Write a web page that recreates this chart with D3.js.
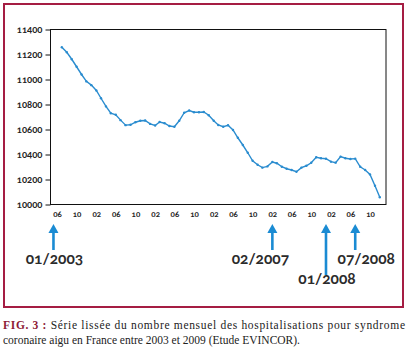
<!DOCTYPE html>
<html>
<head>
<meta charset="utf-8">
<script src="https://cdn.jsdelivr.net/npm/d3@7"></script>
<style>
  body { margin: 0; background: #fff; }
  svg { display: block; }
  .num { font-family: Lato, "Open Sans", sans-serif; font-variant-numeric: oldstyle-nums; }
</style>
</head>
<body>
<svg id="chart" width="410" height="362"></svg>
<script>
// monthly smoothed counts, first value = July 2003, last = Dec 2008
const firstMonth = "2003-07";
const values = [
  11258, 11218, 11162, 11102, 11040, 10985, 10955, 10912, 10850, 10785,
  10730, 10718, 10675, 10635, 10638, 10658, 10670, 10672, 10645, 10632,
  10660, 10650, 10628, 10622, 10670, 10734, 10752, 10738, 10738, 10740,
  10714, 10670, 10636, 10622, 10634, 10596, 10534, 10476, 10414, 10350,
  10318, 10295, 10305, 10340, 10330, 10302, 10286, 10276, 10262, 10295,
  10310, 10334, 10378, 10370, 10366, 10343, 10335, 10383, 10370, 10364,
  10367, 10302, 10276, 10241, 10150, 10058
];
const yTicks = [10000, 10200, 10400, 10600, 10800, 11000, 11200, 11400];
const xTicks = [
  "2003-06", "2003-10", "2004-02", "2004-06", "2004-10", "2005-02", "2005-06",
  "2005-10", "2006-02", "2006-06", "2006-10", "2007-02", "2007-06", "2007-10",
  "2008-02", "2008-06", "2008-10"
];
const markLabels = ["01/2003", "02/2007", "01/2008", "07/2008"];
const markDates = ["2003-05-10", "2007-02-01", "2008-01-01", "2008-07-01"];

const parse = d3.timeParse("%Y-%m-%d");
const parseM = d3.timeParse("%Y-%m");
const start = parseM(firstMonth);
const series = values.map((v, i) => ({ date: d3.timeMonth.offset(start, i), value: v }));

const svg = d3.select("#chart");
const plotL = 50.5, plotR = 386, plotT = 29.5, plotB = 204.5;

// red frame around figure
svg.append("rect")
  .attr("x", 4).attr("y", 4).attr("width", 399).attr("height", 303)
  .attr("fill", "none").attr("stroke", "#a51d43").attr("stroke-width", 2);

const x = d3.scaleTime()
  .domain([parseM("2003-06"), parseM("2008-10")])
  .range([57, 370]);
const y = d3.scaleLinear().domain([10000, 11400]).range([plotB, plotT]);

// plot box
svg.append("rect")
  .attr("x", plotL).attr("y", plotT)
  .attr("width", plotR - plotL).attr("height", plotB - plotT)
  .attr("fill", "none").attr("stroke", "#111").attr("stroke-width", 1);

const yAxis = svg.append("g")
  .attr("transform", `translate(${plotL},0)`)
  .call(d3.axisLeft(y).tickValues(yTicks).tickSize(5).tickPadding(3).tickFormat(d3.format("d")));
yAxis.select(".domain").remove();
yAxis.selectAll("line").attr("stroke", "#111");
yAxis.selectAll("text")
  .attr("class", "num")
  .attr("font-size", 9.5).attr("font-weight", 700).attr("fill", "#222");

const xAxis = svg.append("g")
  .attr("transform", `translate(0,${plotB})`)
  .call(d3.axisBottom(x).tickValues(xTicks.map(parseM)).tickSize(0).tickPadding(7)
    .tickFormat(d3.timeFormat("%m")));
xAxis.select(".domain").remove();
xAxis.selectAll("text")
  .attr("class", "num")
  .attr("font-size", 8).attr("font-weight", 700).attr("fill", "#222");

const line = d3.line().x(d => x(d.date)).y(d => y(d.value));
svg.append("path")
  .datum(series)
  .attr("d", line)
  .attr("fill", "none")
  .attr("stroke", "#2a8ccf")
  .attr("stroke-width", 1.4);

svg.append("g").selectAll("circle")
  .data(series)
  .join("circle")
  .attr("cx", d => x(d.date))
  .attr("cy", d => y(d.value))
  .attr("r", 1.2)
  .attr("fill", "#2a8ccf");

// arrows pointing at key dates
const arrowTip = 224;
const annotLayout = [
  { shaftEnd: 250, dx: 1, baseline: 264 },
  { shaftEnd: 250, dx: -12, baseline: 264 },
  { shaftEnd: 275, dx: 1, baseline: 284 },
  { shaftEnd: 250, dx: 11, baseline: 264 }
];
const arrowColor = "#1a8bd3";
const marks = svg.append("g").selectAll("g")
  .data(markLabels.map((l, i) => ({ label: l, date: parse(markDates[i]), lay: annotLayout[i] })))
  .join("g")
  .attr("transform", d => `translate(${x(d.date)},0)`);

marks.append("line")
  .attr("y1", arrowTip + 6).attr("y2", d => d.lay.shaftEnd)
  .attr("stroke", arrowColor).attr("stroke-width", 2.6);
marks.append("path")
  .attr("d", `M0,${arrowTip} L5,${arrowTip + 9} L-5,${arrowTip + 9} Z`)
  .attr("fill", arrowColor);
marks.append("text")
  .attr("class", "num")
  .attr("x", d => d.lay.dx)
  .attr("y", d => d.lay.baseline)
  .attr("text-anchor", "middle")
  .attr("font-size", 15.5)
  .attr("font-weight", 700)
  .attr("fill", "#2b2b2b")
  .text(d => d.label);

// caption
const cap = svg.append("g")
  .attr("font-family", "'Liberation Serif', 'DejaVu Serif', serif")
  .attr("font-size", 11.5)
  .attr("fill", "#222");
const l1 = cap.append("text").attr("x", 3).attr("y", 329)
  .attr("textLength", 402).attr("lengthAdjust", "spacing");
l1.append("tspan").attr("font-weight", 700).attr("fill", "#8e1a36").text("FIG. 3 : ");
l1.append("tspan").text("Série lissée du nombre mensuel des hospitalisations pour syndrome");
cap.append("text").attr("x", 3).attr("y", 344)
  .text("coronaire aigu en France entre 2003 et 2009 (Etude EVINCOR).");
</script>
</body>
</html>
